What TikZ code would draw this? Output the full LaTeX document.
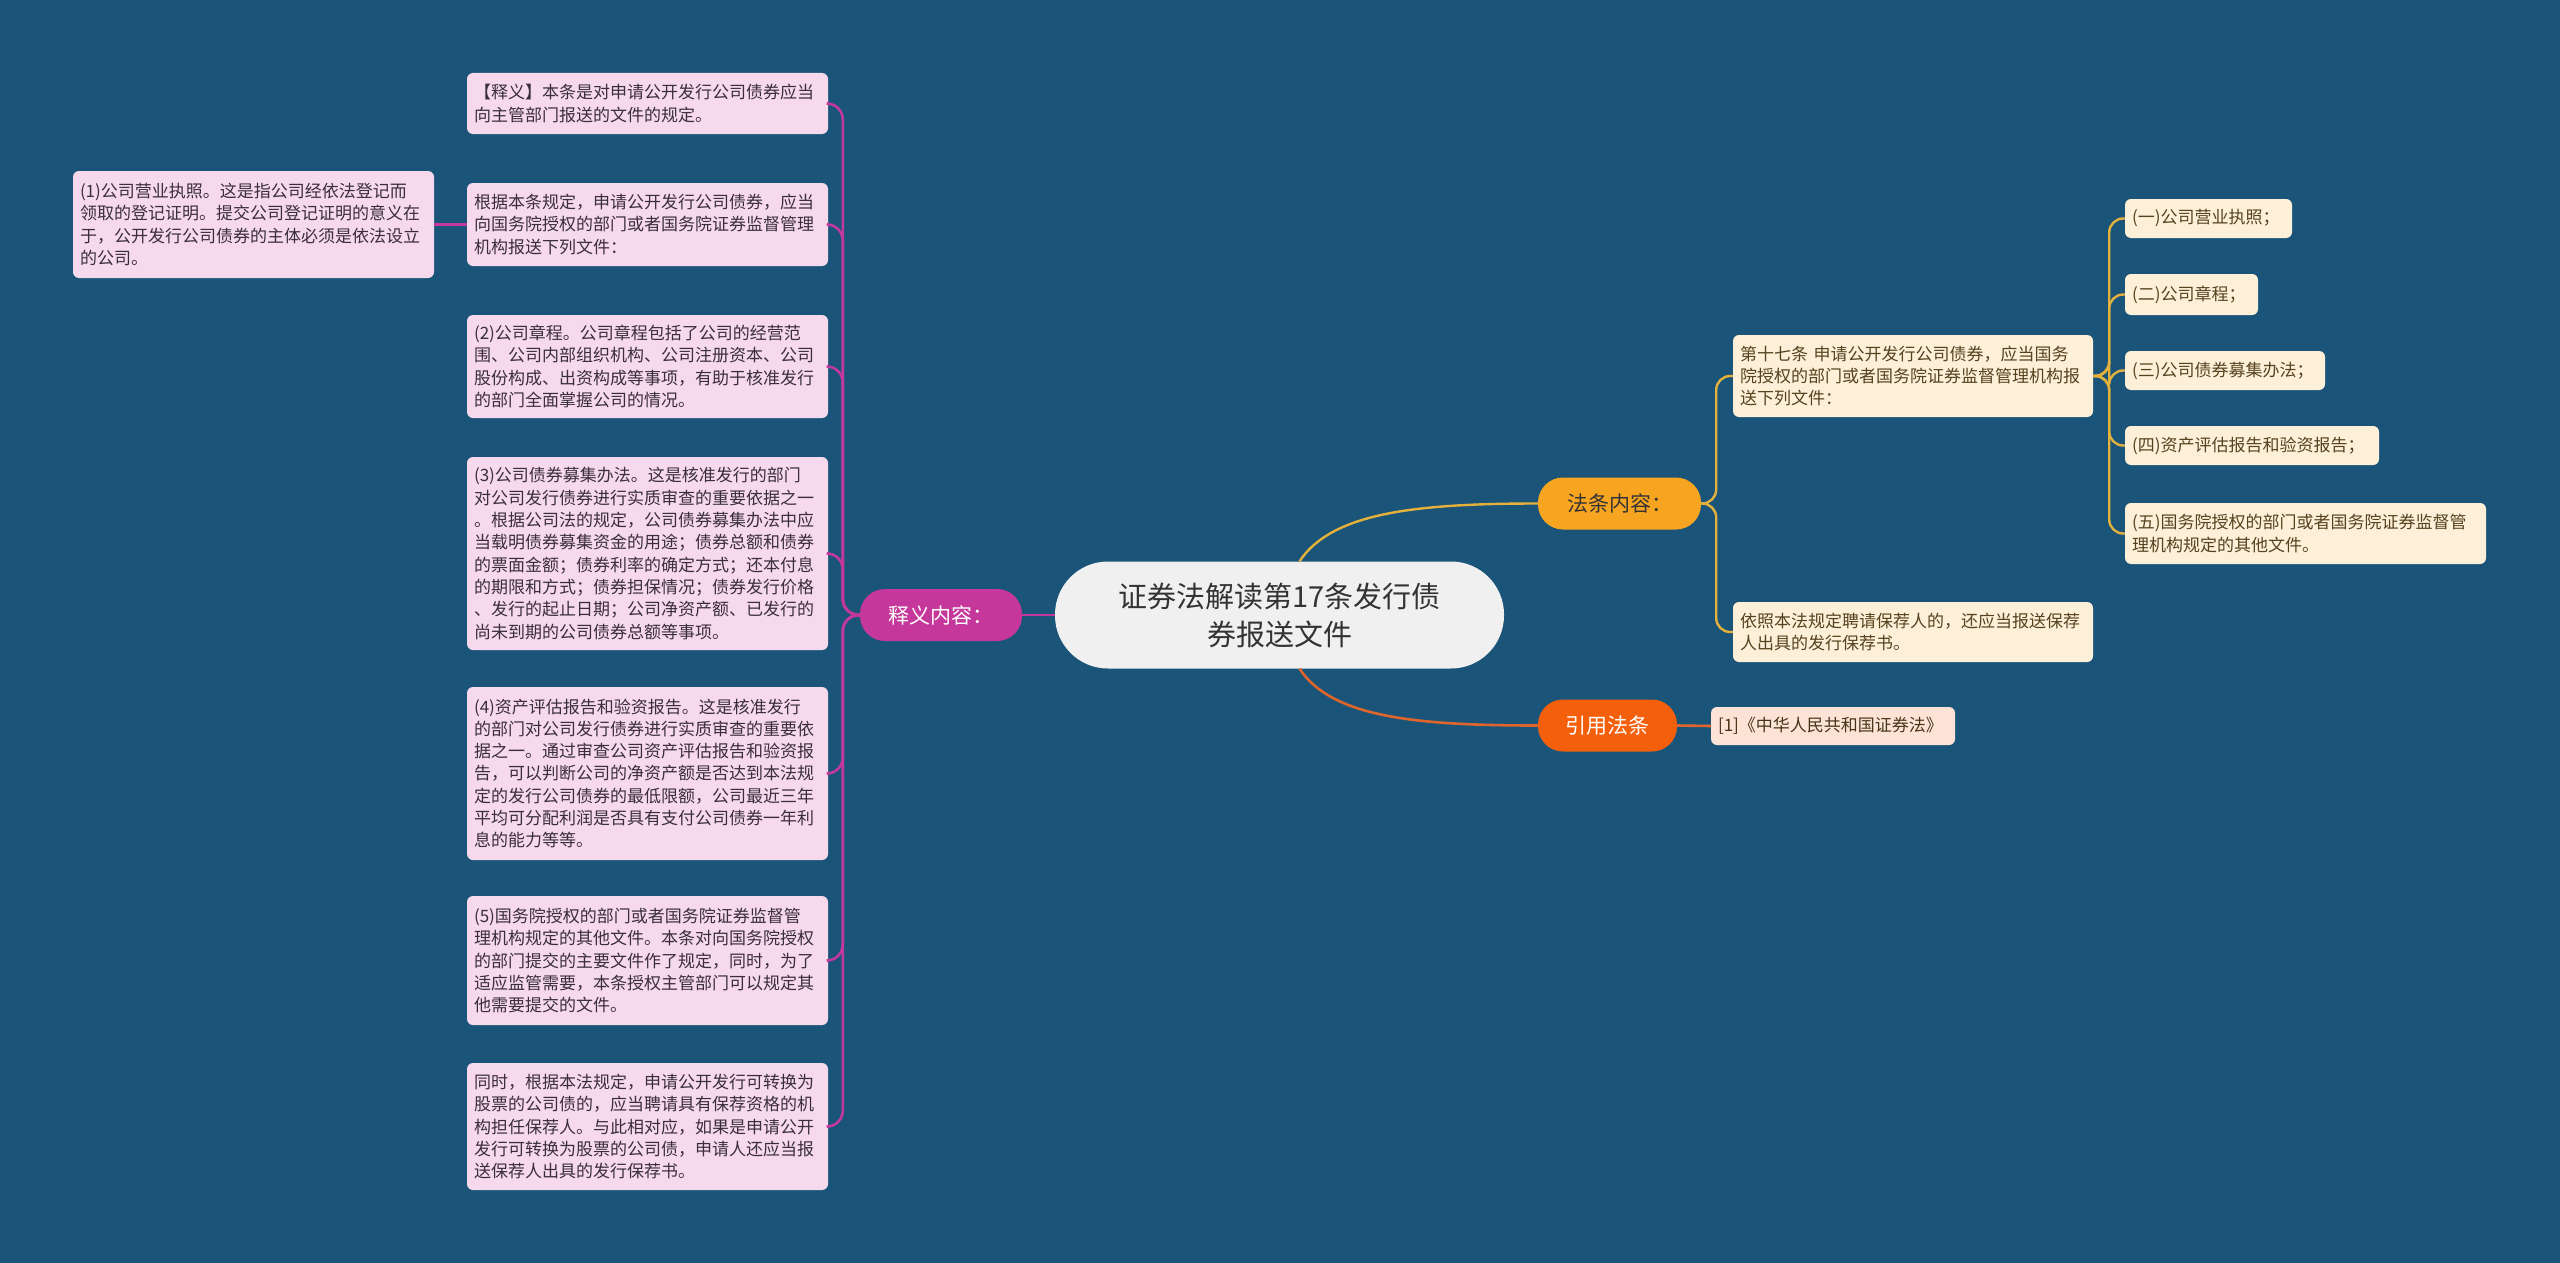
\documentclass[tikz,border=0pt]{standalone}
\usepackage{fontspec}
\setmainfont{Noto Sans CJK SC}
\usetikzlibrary{calc}
\definecolor{bg}{HTML}{1A5479}
\definecolor{pinkfill}{HTML}{F6D9EC}
\definecolor{pinktext}{HTML}{3A2E3C}
\definecolor{magline}{HTML}{C2399B}
\definecolor{magnode}{HTML}{C5379A}
\definecolor{creamfill}{HTML}{FDF0D8}
\definecolor{creamtext}{HTML}{55421F}
\definecolor{goldline}{HTML}{E4B13C}
\definecolor{goldnode}{HTML}{F7A420}
\definecolor{redline}{HTML}{E0652C}
\definecolor{rednode}{HTML}{F45F0C}
\definecolor{peachfill}{HTML}{FDE3D6}
\definecolor{centerfill}{HTML}{F0F0F0}
\begin{document}
\begin{tikzpicture}[x=1pt,y=-1pt,
  bodyfont/.style={font=\fontsize{17}{22.3}\selectfont},
  pinkbox/.style={bodyfont, fill=pinkfill, text=pinktext, rounded corners=6pt,
     text width=347pt, inner xsep=7pt, inner ysep=0pt, align=left},
  creambox/.style={bodyfont, fill=creamfill, text=creamtext, rounded corners=6pt,
     inner xsep=7pt, inner ysep=0pt, align=left},
  branch/.style={font=\fontsize{21}{25}\selectfont, rounded corners=25pt,
     minimum height=52pt, inner sep=0pt},
  magconn/.style={draw=magline, line width=2.6pt, rounded corners=16pt},
  goldconn/.style={draw=goldline, line width=2.4pt, rounded corners=14pt},
  redconn/.style={draw=redline, line width=2.6pt},
]
\fill[bg] (0,0) rectangle (2560,1263);
\useasboundingbox (0,0) rectangle (2560,1263);

% central
\node[fill=centerfill, rounded corners=53pt, minimum width=449pt, minimum height=107pt,
      align=center, text=black!80, font=\fontsize{29}{38}\selectfont, inner sep=0pt]
  (C) at (1279.5,615) {证券法解读第17条发行债\\券报送文件};

% branches
\node[branch, fill=magnode, text=white, minimum width=162pt] (S) at (941,615) {释义内容：};
\node[branch, fill=goldnode, text=black!80, minimum width=163pt] (F) at (1619.5,503.5) {法条内容：};
\node[branch, fill=rednode, text=white, minimum width=139pt] (Y) at (1607.5,725.5) {引用法条};

% left pink boxes
\node[pinkbox, minimum height=61pt] (A) at (647.5,103.5)
 {【释义】本条是对申请公开发行公司债券应当\\向主管部门报送的文件的规定。};
\node[pinkbox, minimum height=83pt] (B) at (647.5,224.5)
 {根据本条规定，申请公开发行公司债券，应当\\向国务院授权的部门或者国务院证券监督管理\\机构报送下列文件：};
\node[pinkbox, minimum height=107pt] (B1) at (253.5,224.5)
 {(1)公司营业执照。这是指公司经依法登记而\\领取的登记证明。提交公司登记证明的意义在\\于，公开发行公司债券的主体必须是依法设立\\的公司。};
\node[pinkbox, minimum height=103pt] (P2) at (647.5,366.5)
 {(2)公司章程。公司章程包括了公司的经营范\\围、公司内部组织机构、公司注册资本、公司\\股份构成、出资构成等事项，有助于核准发行\\的部门全面掌握公司的情况。};
\node[pinkbox, minimum height=193pt] (P3) at (647.5,553.5)
 {(3)公司债券募集办法。这是核准发行的部门\\对公司发行债券进行实质审查的重要依据之一\\。根据公司法的规定，公司债券募集办法中应\\当载明债券募集资金的用途；债券总额和债券\\的票面金额；债券利率的确定方式；还本付息\\的期限和方式；债券担保情况；债券发行价格\\、发行的起止日期；公司净资产额、已发行的\\尚未到期的公司债券总额等事项。};
\node[pinkbox, minimum height=173pt] (P4) at (647.5,773.5)
 {(4)资产评估报告和验资报告。这是核准发行\\的部门对公司发行债券进行实质审查的重要依\\据之一。通过审查公司资产评估报告和验资报\\告，可以判断公司的净资产额是否达到本法规\\定的发行公司债券的最低限额，公司最近三年\\平均可分配利润是否具有支付公司债券一年利\\息的能力等等。};
\node[pinkbox, minimum height=129pt] (P5) at (647.5,960.5)
 {(5)国务院授权的部门或者国务院证券监督管\\理机构规定的其他文件。本条对向国务院授权\\的部门提交的主要文件作了规定，同时，为了\\适应监管需要，本条授权主管部门可以规定其\\他需要提交的文件。};
\node[pinkbox, minimum height=127pt] (P6) at (647.5,1126.5)
 {同时，根据本法规定，申请公开发行可转换为\\股票的公司债的，应当聘请具有保荐资格的机\\构担任保荐人。与此相对应，如果是申请公开\\发行可转换为股票的公司债，申请人还应当报\\送保荐人出具的发行保荐书。};

% right cream boxes
\node[creambox, text width=346pt, minimum height=82pt] (R1) at (1913,376)
 {第十七条 申请公开发行公司债券，应当国务\\院授权的部门或者国务院证券监督管理机构报\\送下列文件：};
\node[creambox, text width=346pt, minimum height=60pt] (R2) at (1913,632)
 {依照本法规定聘请保荐人的，还应当报送保荐\\人出具的发行保荐书。};
\node[creambox, fill=peachfill, text=creamtext!80!black, text width=230pt, minimum height=38pt] (L1) at (1833,726)
 {[1]《中华人民共和国证券法》};

\node[creambox, text width=153pt, minimum height=39pt] (I1) at (2208.5,218.5) {(一)公司营业执照；};
\node[creambox, text width=119pt, minimum height=41pt] (I2) at (2191.5,294.5) {(二)公司章程；};
\node[creambox, text width=186pt, minimum height=39pt] (I3) at (2225,370.5) {(三)公司债券募集办法；};
\node[creambox, text width=240pt, minimum height=39pt] (I4) at (2252,445.5) {(四)资产评估报告和验资报告；};
\node[creambox, text width=347pt, minimum height=61pt] (I5) at (2305.5,533.5)
 {(五)国务院授权的部门或者国务院证券监督管\\理机构规定的其他文件。};

% connectors: centre to branches
\draw[draw=magline, line width=2.6pt] (C.west) -- (S.east);
\draw[draw=goldline, line width=2.4pt] ([xshift=20pt]C.north) .. controls +(32,-48) and +(-125,0) .. (F.west);
\draw[redconn] ([xshift=20pt]C.south) .. controls +(32,48) and +(-125,0) .. (Y.west);

% left tree
\foreach \n in {A,B,P2,P3,P4,P5,P6}
  \draw[magconn] (S.west) -- ++(-17,0) |- (\n.east);
\draw[draw=magline, line width=2.6pt] (B.west) -- (B1.east);

% right tree
\foreach \n in {R1,R2}
  \draw[goldconn] (F.east) -- ++(15,0) |- (\n.west);
\foreach \n in {I1,I2,I3,I4,I5}
  \draw[goldconn] (R1.east) -- ++(16,0) |- (\n.west);
\draw[redconn] (Y.east) -- (L1.west);
\end{tikzpicture}
\end{document}
